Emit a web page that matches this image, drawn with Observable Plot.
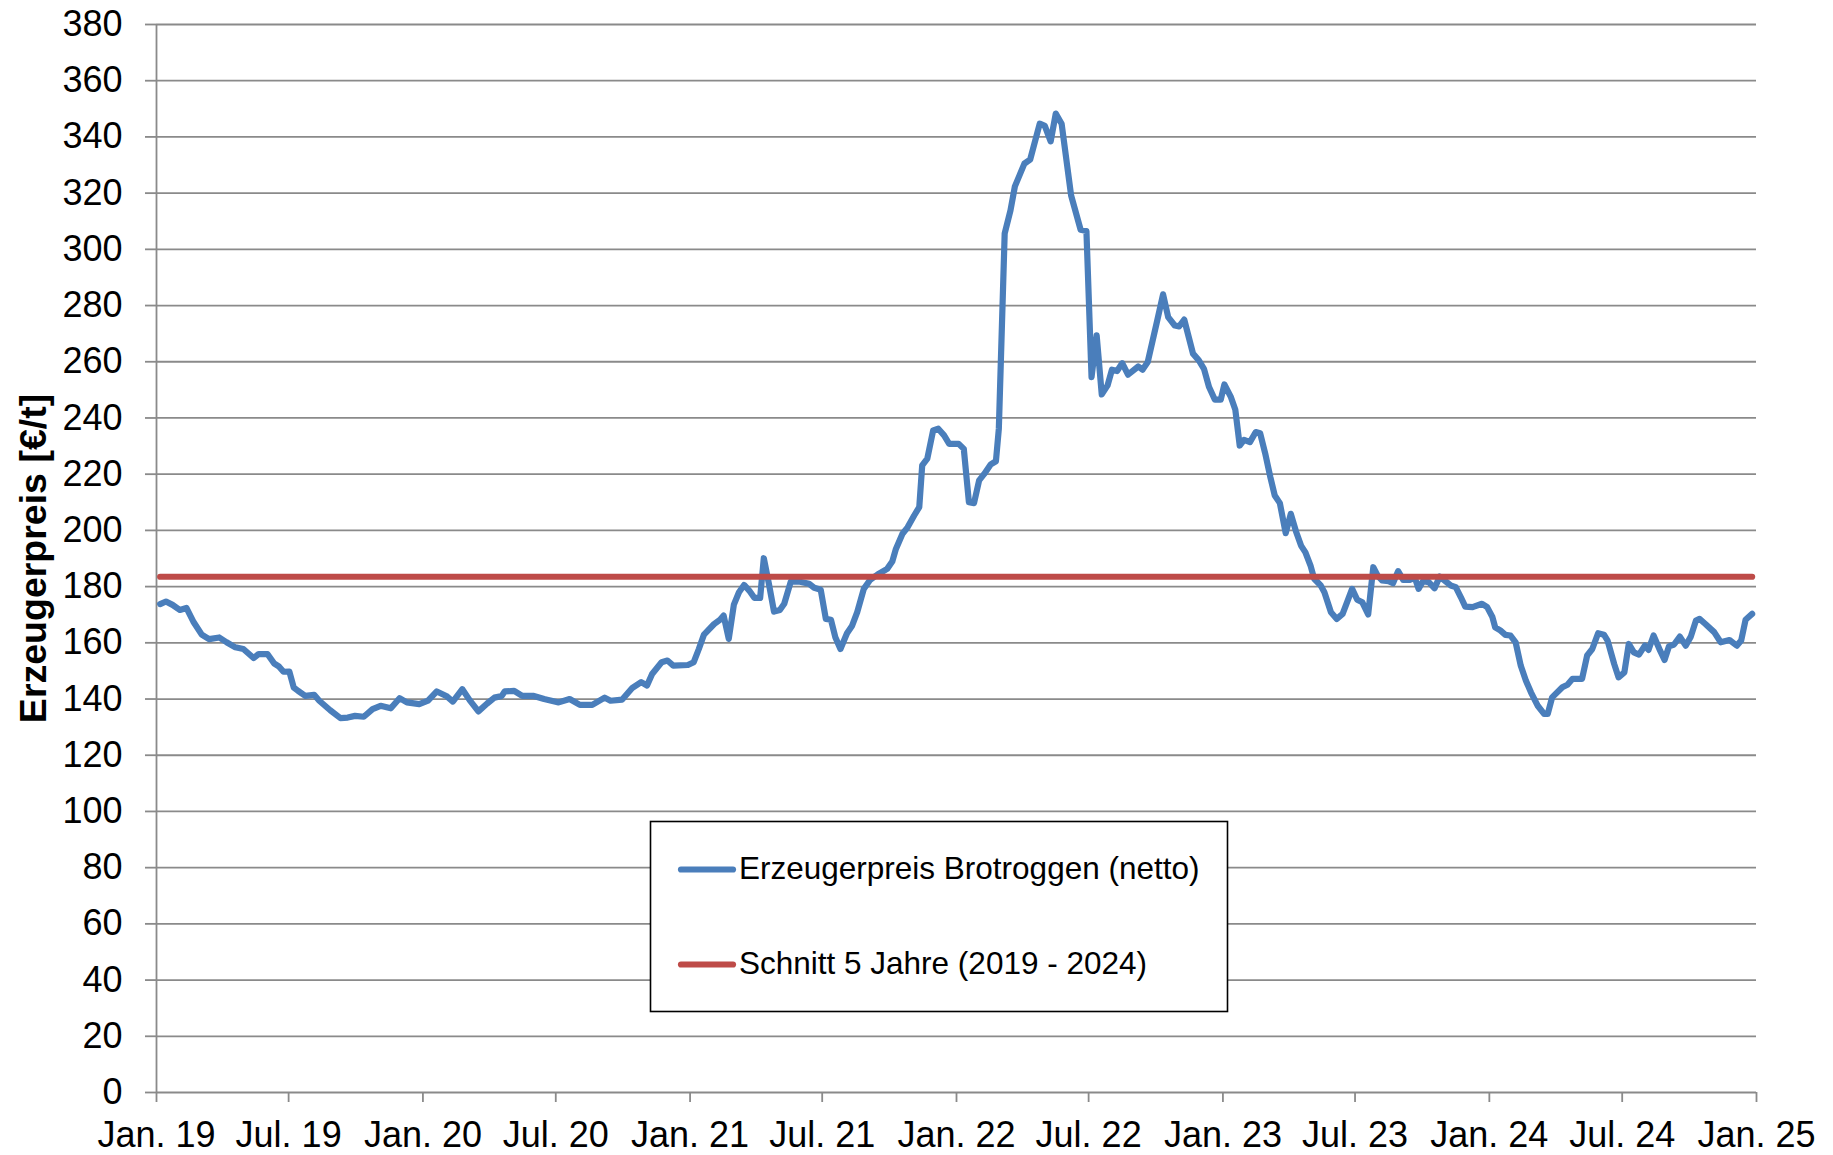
<!DOCTYPE html>
<html>
<head>
<meta charset="utf-8">
<script src="https://cdn.jsdelivr.net/npm/d3@7"></script>
<script src="https://cdn.jsdelivr.net/npm/@observablehq/plot@0.6"></script>
<style>
  html, body { margin: 0; padding: 0; background: #fff; }
  #chart svg { display: block; }
</style>
</head>
<body>
<div id="chart"></div>
<script>
// Days after 1 Jan 2019 of each reading
const days = [
  5,13,22,32,41,51,62,72,86,96,108,119,133,140,152,161,168,174,182,188,
  194,204,216,223,238,252,262,272,284,296,307,321,333,343,360,372,384,397,406,419,
  429,441,453,463,473,477,490,501,517,531,541,551,566,580,597,614,622,
  638,652,664,672,679,692,700,708,728,736,743,750,764,772,777,784,791,798,805,812,
  819,827,832,839,846,854,860,864,869,880,894,901,910,917,924,930,937,946,953,960,
  969,978,988,1001,1008,
  1013,1022,1029,1038,1045,1049,1056,1064,1071,1079,1086,1099,1106,1113,1120,1127,1134,1143,1150,1154,
  1162,1170,1176,1189,1197,1210,1217,1225,1232,1240,1253,1266,1274,1281,
  1288,1295,1303,1309,1316,1323,1331,1345,1351,1358,1371,1379,1386,1395,1401,1408,1420,1428,1435,1442,
  1450,1458,1463,1472,1478,1484,1490,1498,1506,1512,1519,1526,1532,1539,1547,1554,1561,1568,1574,1581,
  1586,1595,1600,1609,1617,1625,1631,1638,1645,1652,1660,1667,1673,1679,1688,1694,1701,1708,1717,1724,
  1729,1735,1743,1751,1758,1766,1773,1780,1787,1793,1803,1816,1823,1830,1834,1841,1848,1855,1862,1869,
  1876,1883,1892,1901,1906,
  1912,1926,1933,1940,1953,1960,1967,1975,1983,1988,1997,2003,2011,2017,2024,2031,2039,2044,2051,2060,
  2066,2072,2079,2087,2095,2102,2109,2114,2122,2134,2143,2155,2165,2171,2177,2186
];
// Erzeugerpreis Brotroggen (netto), €/t
const prices = [
  173.8,174.7,173.5,171.7,172.4,167.3,162.9,161.3,161.9,160.2,158.4,157.8,154.6,156,156,152.7,151.5,149.7,149.8,144.1,
  142.9,141.1,141.5,139.4,136,133.2,133.4,134,133.7,136.4,137.6,136.7,140.3,138.8,138.2,139.4,142.7,141.1,139.1,143.5,
  139.6,135.6,138.4,140.5,141.1,142.7,142.9,141.1,141.1,140,139.4,138.8,140,137.9,137.9,140.5,139.4,
  139.8,144,146,144.8,148.9,153.1,153.7,151.9,152.1,153.1,157.8,162.9,166.7,168.2,169.7,161.4,173.6,178,180.6,178.6,
  176,176,190.1,181,171.1,171.7,173.9,177.4,181.8,181.8,181,179.6,178.9,168.5,168.2,162,157.8,163.4,166.1,170.9,
  179.2,182.5,184.3,186.3,188.9,
  193.4,198.8,201.1,205.3,208.3,223.1,225.5,235.6,236.2,233.8,230.8,230.8,229,210,209.7,217.8,220.1,223.5,224.6,236.2,
  305.6,313.9,322.4,330.5,332,344.7,343.9,338.4,348.3,344.7,319.2,307,306.5,254.5,
  269.4,248.4,251.6,257.2,256.7,259.5,255.4,258.3,257.2,259.9,274.7,284,275.9,272.9,272.6,275,262.9,260.5,257.5,251,
  246.5,246.5,251.9,247.4,242.9,230.2,232.2,231.4,235,234.6,227.3,218.9,212.4,209.7,199,205.9,199.7,194.6,192.2,187.5,
  182.8,180.4,178,170.9,168.5,170.3,174.4,179.2,175.3,174.4,170.1,186.9,183.9,182.2,181.9,181.2,185.5,182.4,182.4,183.1,
  179.2,181.9,181.6,179.4,183.6,181.9,180.4,179.8,176.2,172.9,172.7,173.9,172.7,169.3,165.5,164.4,162.8,162.6,160.2,151.9,
  146.6,142.4,137.7,134.7,134.7,
  140.6,144.2,145.1,147.2,147.2,155.5,157.8,163.4,162.9,160.8,152.5,147.7,149.5,159.6,156.6,155.8,159,157.5,162.6,157.2,
  153.9,158.7,159.4,162.2,159,162.2,167.9,168.5,166.7,163.8,160.2,161,159,160.8,168.2,170.3
];
const averagePrice = 183.5;
const seriesNames = ["Erzeugerpreis Brotroggen (netto)", "Schnitt 5 Jahre (2019 - 2024)"];
const seriesColors = ["#4a7ebb", "#be4b48"];
const yTicks = [0,20,40,60,80,100,120,140,160,180,200,220,240,260,280,300,320,340,360,380];
const tickYears = [2019,2020,2021,2022,2023,2024,2025];
const monthNames = {0: "Jan.", 6: "Jul."};
const yLabel = "Erzeugerpreis [€/t]";

const start = Date.UTC(2019, 0, 1);
const toDate = d => new Date(start + d * 86400000);
const series = days.map((d, i) => ({date: toDate(d), price: prices[i]}));
const avgSeries = [
  {date: toDate(days[0]), price: averagePrice},
  {date: toDate(days[days.length - 1]), price: averagePrice}
];
const xTicks = [];
tickYears.forEach((y, i) => {
  xTicks.push(new Date(Date.UTC(y, 0, 1)));
  if (i < tickYears.length - 1) xTicks.push(new Date(Date.UTC(y, 6, 1)));
});
const fmt = d => monthNames[d.getUTCMonth()] + " " + String(d.getUTCFullYear()).slice(2);

const gridColor = "#8a8a8a";
const font = "'Liberation Sans', Arial, Helvetica, sans-serif";
const lineWidth = 6.2;

const chart = Plot.plot({
  width: 1833,
  height: 1155,
  marginLeft: 156,
  marginRight: 77,
  marginTop: 24,
  marginBottom: 63,
  style: {fontFamily: font, background: "#fff", color: "#000", overflow: "visible"},
  x: {type: "utc", domain: [new Date(start), new Date(Date.UTC(2025, 0, 1))]},
  y: {domain: [0, 380]},
  marks: [
    Plot.gridY(yTicks, {stroke: gridColor, strokeOpacity: 1, strokeWidth: 1.8}),
    Plot.ruleX([new Date(start)], {stroke: gridColor, strokeOpacity: 1, strokeWidth: 1.8}),
    Plot.axisY(yTicks, {tickSize: 11, tickPadding: 23, fontSize: 36, stroke: gridColor, strokeWidth: 1.8, fill: "#000", label: null}),
    Plot.axisX(xTicks, {tickSize: 10, tickPadding: 19, fontSize: 36, tickFormat: fmt, stroke: gridColor, strokeWidth: 1.8, fill: "#000", label: null}),
    Plot.lineY(series, {x: "date", y: "price", stroke: seriesColors[0], strokeWidth: lineWidth, strokeLinejoin: "round", strokeLinecap: "round"}),
    Plot.lineY(avgSeries, {x: "date", y: "price", stroke: seriesColors[1], strokeWidth: lineWidth, strokeLinecap: "round"}),
    Plot.text([yLabel], {text: d => d, frameAnchor: "left", textAnchor: "middle", lineAnchor: "middle", dx: -123, rotate: -90, fontSize: 37.5, fontWeight: "bold", fill: "#000"})
  ]
});

// Legend box
const svg = d3.select(chart);
const lg = svg.append("g").attr("font-family", font).attr("text-anchor", "start");
lg.append("rect")
  .attr("x", 650.5).attr("y", 821.5).attr("width", 577).attr("height", 190)
  .attr("fill", "#fff").attr("stroke", "#000").attr("stroke-width", 1.6);
const rowY = [869.5, 964.5];
seriesNames.forEach((name, i) => {
  lg.append("line")
    .attr("x1", 681).attr("x2", 733).attr("y1", rowY[i]).attr("y2", rowY[i])
    .attr("stroke", seriesColors[i]).attr("stroke-width", lineWidth).attr("stroke-linecap", "round");
  lg.append("text")
    .attr("x", 739).attr("y", rowY[i] + 9.5)
    .attr("text-anchor", "start")
    .attr("font-size", 31.5).attr("fill", "#000")
    .text(name);
});

document.getElementById("chart").appendChild(chart);
</script>
</body>
</html>
